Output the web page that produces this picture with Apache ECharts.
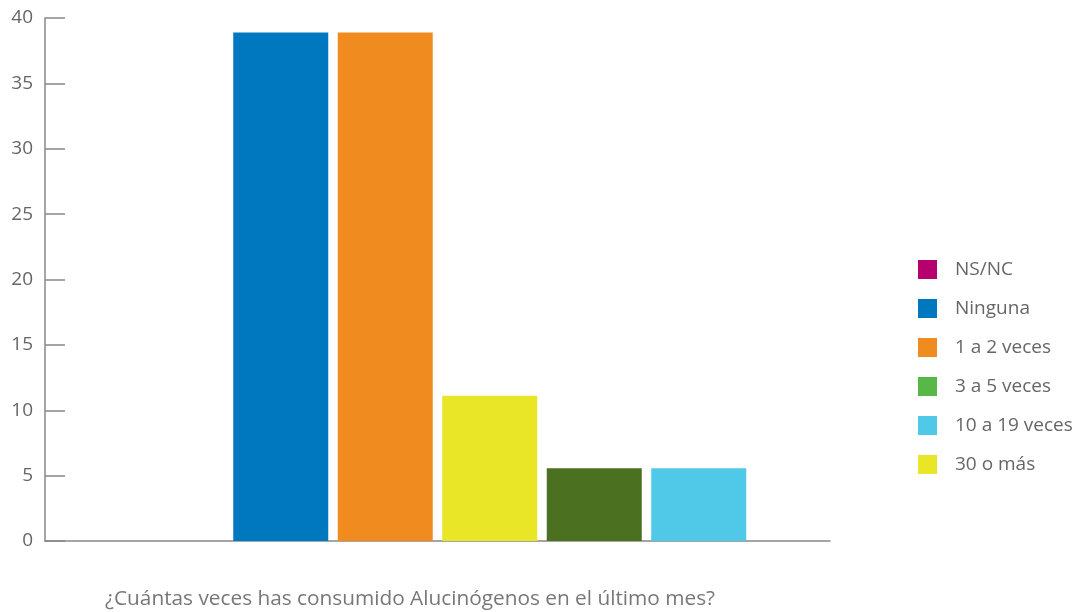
<!DOCTYPE html>
<html>
<head>
<meta charset="utf-8">
<script src="https://cdn.jsdelivr.net/npm/echarts@6/dist/echarts.min.js"></script>
<style>html,body{margin:0;padding:0;background:#fff}#c{width:1082px;height:612px}</style>
</head>
<body>
<div id="c"></div>
<script>
const categories = ['¿Cuántas veces has consumido Alucinógenos en el último mes?'];
const seriesNames = ['NS/NC', 'Ninguna', '1 a 2 veces', '30 o más', '3 a 5 veces', '10 a 19 veces'];
const seriesValues = [0, 38.89, 38.89, 11.11, 5.56, 5.56];
const barColors = ['#b5006e', '#0078c0', '#f08c1f', '#e9e628', '#4b701f', '#50c8e8'];
const legendOrder = ['NS/NC', 'Ninguna', '1 a 2 veces', '3 a 5 veces', '10 a 19 veces', '30 o más'];
const legendColors = ['#b5006e', '#0078c0', '#f08c1f', '#58b847', '#50c8e8', '#e9e628'];
const yTicks = { min: 0, max: 40, interval: 5 };

const chart = echarts.init(document.getElementById('c'));
const font = '"Open Sans", "Noto Sans", sans-serif';
chart.setOption({
  animation: false,
  textStyle: { fontFamily: font },
  grid: { left: 45, right: 252, top: 18, bottom: 71 },
  legend: {
    orient: 'vertical',
    left: 913,
    top: 255,
    itemWidth: 19,
    itemHeight: 19,
    itemGap: 20,
    icon: 'rect',
    textStyle: { fontSize: 19, color: '#666', fontFamily: font, padding: [0, 0, 0, 13] },
    data: legendOrder.map((n, i) => ({ name: n, itemStyle: { color: legendColors[i] } }))
  },
  xAxis: {
    type: 'category',
    data: categories,
    axisLine: { lineStyle: { color: '#888', width: 1.5 } },
    axisTick: { inside: true, interval: 0, length: 13, lineStyle: { color: '#888', width: 1.5 } },
    axisLabel: { show: false }
  },
  yAxis: {
    type: 'value',
    min: yTicks.min, max: yTicks.max, interval: yTicks.interval,
    axisLine: { show: true, lineStyle: { color: '#888', width: 1.5 } },
    axisTick: { show: true, inside: true, length: 20, lineStyle: { color: '#888', width: 1.5 } },
    splitLine: { show: false },
    axisLabel: { fontSize: 19, color: '#666', margin: 12, fontFamily: font }
  },
  graphic: [{
    type: 'text',
    left: 105,
    top: 589,
    style: { text: categories[0], fontSize: 20.8, fill: '#777', fontFamily: font }
  }],
  series: seriesNames.map((n, i) => ({
    name: n,
    type: 'bar',
    data: [seriesValues[i]],
    barWidth: 95,
    barGap: '10%',
    itemStyle: { color: barColors[i] }
  }))
});
</script>
</body>
</html>
